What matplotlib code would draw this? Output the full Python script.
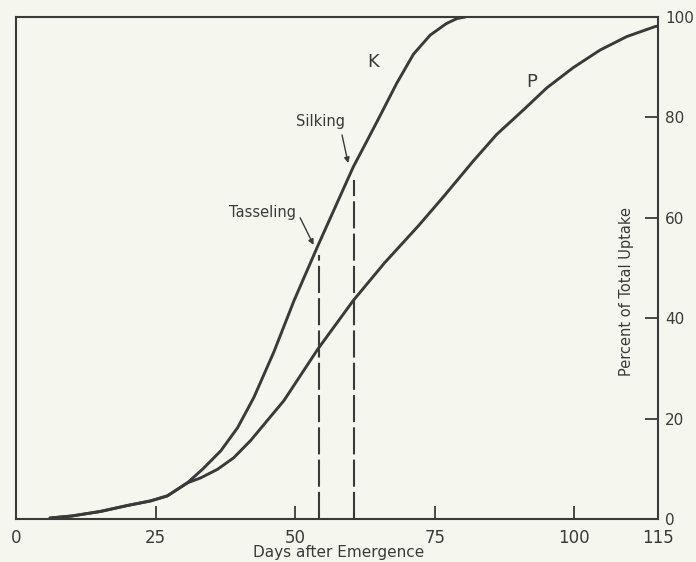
import matplotlib
matplotlib.use('Agg')
import matplotlib.pyplot as plt

#===============================================================================
# Data: nutrient uptake vs days after emergence
#===============================================================================
k_days = [6.1, 10, 15.1, 20, 24.1, 27.1, 30.7, 33.5, 36.7, 39.7, 42.6, 46.2,
          49.8, 54.1, 60.4, 63.0, 65.2, 68.2, 71.2, 74.2, 77.1, 79.0, 80.5]
k_pct = [0.2, 0.6, 1.5, 2.7, 3.6, 4.6, 7.2, 10.0, 13.6, 18.2, 24.2, 33.3,
         43.5, 54.5, 70.1, 75.6, 80.3, 86.8, 92.6, 96.4, 98.7, 99.7, 100]

p_days = [6.1, 10, 15.1, 20, 24.1, 27.1, 30.7, 33.1, 36.1, 39.0, 42.0, 45.0,
          48.0, 54.1, 60.4, 66.0, 72.0, 76.5, 81.9, 86.1, 90.9, 95.1, 99.8,
          104.6, 109.4, 114.5, 115]
p_pct = [0.2, 0.6, 1.5, 2.7, 3.6, 4.6, 7.2, 8.2, 9.9, 12.2, 15.6, 19.6,
         23.6, 33.9, 43.5, 51.0, 58.3, 64.1, 71.3, 76.6, 81.5, 85.9, 89.9,
         93.4, 96.1, 98.1, 98.2]

# growth stages (day, top of dashed line)
stage_names = ['Tasseling', 'Silking']
stage_days = [54.3, 60.5]
stage_top = [52.5, 67.5]

x_ticks = [0, 25, 50, 75, 100, 115]
y_ticks = [0, 20, 40, 60, 80, 100]

bg = '#f5f6ee'
ink = '#3a3a3a'

#===============================================================================
# Plot
#===============================================================================
fig = plt.figure(figsize=(6.96, 5.62), dpi=100, facecolor=bg)
ax = fig.add_axes([16/696, 43/562, 642/696, 502/562], facecolor=bg)

ax.plot(k_days, k_pct, color=ink, lw=2.1, solid_capstyle='round', solid_joinstyle='round')
ax.plot(p_days, p_pct, color=ink, lw=2.1, solid_capstyle='round', solid_joinstyle='round')

for d, top in zip(stage_days, stage_top):
    ax.plot([d, d], [0, top], color=ink, lw=1.5, ls=(0, (13, 2.5)))

# stage labels with arrows
ax.text(44.2, 61.0, stage_names[0], ha='center', va='center', fontsize=10.5, color=ink)
ax.annotate('', xy=(53.3, 54.6), xytext=(50.9, 60.0),
            arrowprops=dict(arrowstyle='-|>', color=ink, lw=1.0, mutation_scale=8,
                            shrinkA=0, shrinkB=0))
ax.text(54.5, 79.1, stage_names[1], ha='center', va='center', fontsize=10.5, color=ink)
ax.annotate('', xy=(59.5, 70.9), xytext=(58.4, 76.5),
            arrowprops=dict(arrowstyle='-|>', color=ink, lw=1.0, mutation_scale=8,
                            shrinkA=0, shrinkB=0))

ax.text(63.9, 91.0, 'K', ha='center', va='center', fontsize=13, color=ink)
ax.text(92.4, 87.1, 'P', ha='center', va='center', fontsize=13, color=ink)

ax.set_xlim(0, 115)
ax.set_ylim(0, 100)

for s in ax.spines.values():
    s.set_color(ink)
    s.set_linewidth(1.5)

ax.set_xticks(x_ticks)
ax.set_xticklabels([str(t) for t in x_ticks])
ax.set_yticks(y_ticks)
ax.set_yticklabels([str(t) for t in y_ticks])
ax.yaxis.tick_right()
ax.tick_params(axis='both', direction='in', length=9.5, width=1.3, color=ink,
               labelcolor=ink)
ax.tick_params(axis='x', pad=7, labelsize=12)
ax.tick_params(axis='y', pad=5, labelsize=11)

fig.text(339/696, 1 - 553/562, 'Days after Emergence', ha='center', va='center',
         fontsize=11, color=ink)
fig.text(627/696, 1 - 291/562, 'Percent of Total Uptake', rotation=90,
         ha='center', va='center', fontsize=10.5, color=ink)

fig.savefig('out.png', dpi=100, facecolor=bg)
